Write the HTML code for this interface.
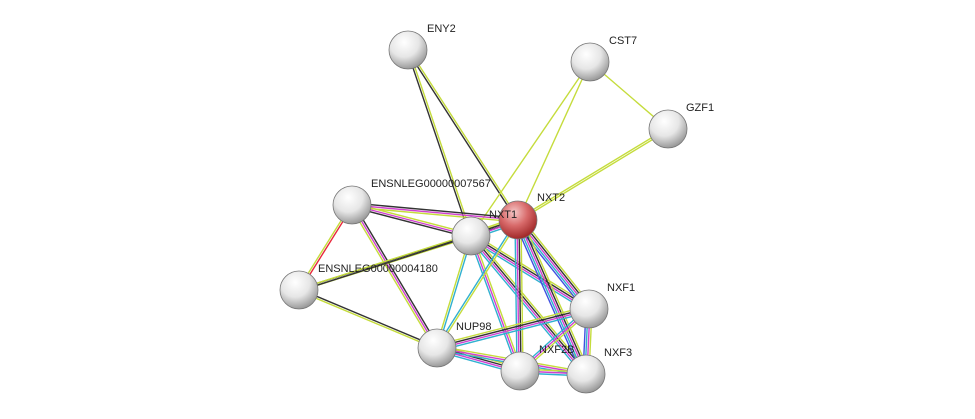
<!DOCTYPE html>
<html><head><meta charset="utf-8"><style>
html,body{margin:0;padding:0;background:#fff;width:975px;height:419px;overflow:hidden}
svg text{font-family:"Liberation Sans",sans-serif;font-size:11px;fill:#222}
</style></head><body>
<svg id="s" width="975" height="419" viewBox="0 0 975 419" xmlns="http://www.w3.org/2000/svg">
<defs>
<radialGradient id="g" cx="40%" cy="30%" r="70%">
<stop offset="0" stop-color="#ffffff"/><stop offset="0.55" stop-color="#e6e6e6"/><stop offset="1" stop-color="#9a9a9a"/></radialGradient>
<radialGradient id="r" cx="40%" cy="30%" r="70%">
<stop offset="0" stop-color="#f5c8c8"/><stop offset="0.5" stop-color="#d86a6a"/><stop offset="1" stop-color="#a02828"/></radialGradient>
</defs>
<g id="edges"></g>
<g id="nodes"></g>
<text x="427" y="32">ENY2</text>
<text x="609" y="44">CST7</text>
<text x="686" y="111">GZF1</text>
<text x="537" y="201">NXT2</text>
<text x="489" y="218">NXT1</text>
<text x="371" y="187">ENSNLEG00000007567</text>
<text x="318" y="272">ENSNLEG00000004180</text>
<text x="607" y="291">NXF1</text>
<text x="456" y="330">NUP98</text>
<text x="539" y="353">NXF2B</text>
<text x="604" y="356">NXF3</text>
</svg>
<script>
var N={ENY2:[408,50],CST7:[590,62],GZF1:[668,129],NXT2:[518,220],NXT1:[471,236],A:[352,205],B:[299,290],NXF1:[589,309],NUP98:[437,348],NXF2B:[520,371],NXF3:[586,374]};
var G='#c5dc3c',K='#333',M='#d040d0',C='#30b0d0',U='#4050e0',R='#e8283c';
var E=[['ENY2','NXT1',[G,K]],['ENY2','NXT2',[G,K]],['CST7','NXT2',[G]],['CST7','NXT1',[G]],['CST7','GZF1',[G]],['GZF1','NXT2',[G,G]],
['A','NXT1',[G,M,K]],['A','NXT2',[K,M,G]],['A','B',[R,G]],['A','NUP98',[K,M,G]],['B','NXT1',[K,G]],['B','NXT2',[G,K]],['B','NUP98',[K,G]],
['NXT1','NXF1',[G,K,M,C]],['NXT1','NXF3',[G,K,M,C]],['NXT1','NXF2B',[G,M,C]],['NXT1','NUP98',[C,G]],['NXT1','NXT2',[G,K,M,C]],
['NXT2','NXF1',[G,K,M,C,U]],['NXT2','NXF2B',[G,K,M,C]],['NXT2','NXF3',[G,K,M,C,U]],['NXT2','NUP98',[G,C]],
['NUP98','NXF1',[G,K,M,C]],['NUP98','NXF2B',[G,K,M,C]],['NUP98','NXF3',[G,M,C]],['NXF1','NXF2B',[G,M,C]],['NXF1','NXF3',[G,M,C,U]],['NXF2B','NXF3',[G,M,C]]];
var ns='http://www.w3.org/2000/svg',eg=document.getElementById('edges'),ng=document.getElementById('nodes');
E.forEach(function(e){var a=N[e[0]],b=N[e[1]],dx=b[0]-a[0],dy=b[1]-a[1],l=Math.hypot(dx,dy),px=-dy/l,py=dx/l,n=e[2].length;
e[2].forEach(function(c,i){var o=(i-(n-1)/2)*2;var L=document.createElementNS(ns,'line');
L.setAttribute('x1',a[0]+px*o);L.setAttribute('y1',a[1]+py*o);L.setAttribute('x2',b[0]+px*o);L.setAttribute('y2',b[1]+py*o);
L.setAttribute('stroke',c);L.setAttribute('stroke-width','1.4');eg.appendChild(L);});});
for(var k in N){var c=document.createElementNS(ns,'circle');c.setAttribute('cx',N[k][0]);c.setAttribute('cy',N[k][1]);c.setAttribute('r',19);
c.setAttribute('fill',k=='NXT2'?'url(#r)':'url(#g)');c.setAttribute('stroke','#777');c.setAttribute('stroke-width','0.8');ng.appendChild(c);}
</script>
</body></html>
